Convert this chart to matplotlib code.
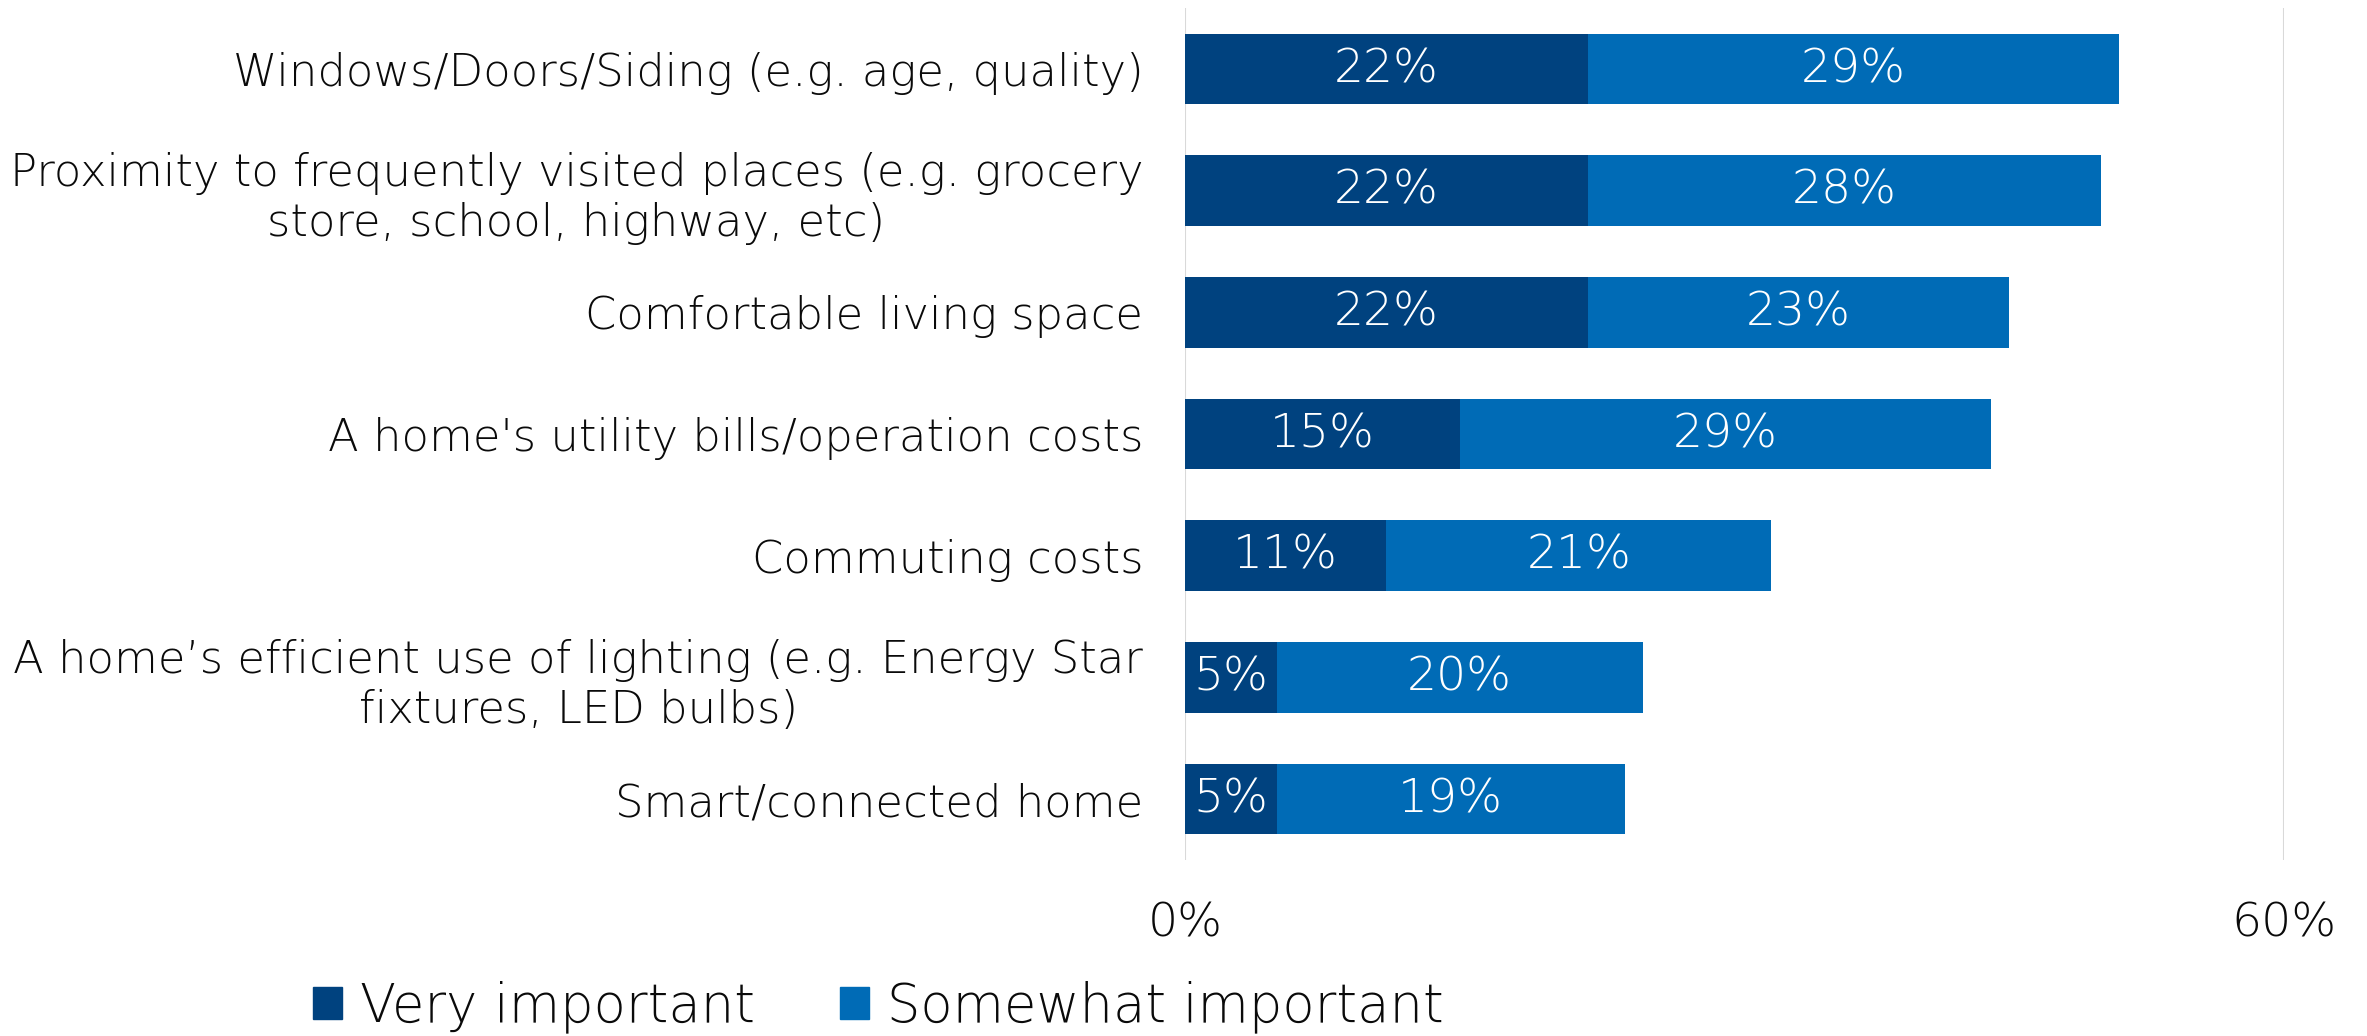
import matplotlib.pyplot as plt
from matplotlib.patches import Patch

categories = [
    "Windows/Doors/Siding (e.g. age, quality)",
    "Proximity to frequently visited places (e.g. grocery\nstore, school, highway, etc)",
    "Comfortable living space",
    "A home's utility bills/operation costs",
    "Commuting costs",
    "A home\u2019s efficient use of lighting (e.g. Energy Star\nfixtures, LED bulbs)",
    "Smart/connected home",
]
very_important = [22, 22, 22, 15, 11, 5, 5]
somewhat_important = [29, 28, 23, 29, 21, 20, 19]
series_names = ["Very important", "Somewhat important"]
x_ticks = [0, 60]

dark_blue = "#00427F"
light_blue = "#006BB6"
text_col = "#0A0A0A"

plt.rcParams['font.family'] = ['DejaVu Sans']

fig = plt.figure(figsize=(23.67, 10.36), dpi=100)
ax = fig.add_axes([0.5006, 0.170, 0.4644, 0.822])

y = list(range(len(categories)))
ax.barh(y, very_important, height=0.58, color=dark_blue)
ax.barh(y, somewhat_important, left=very_important, height=0.58, color=light_blue)

# value labels centred in each segment
for i in y:
    ax.text(very_important[i] / 2, i, f"{very_important[i]}%", ha='center', va='center',
            color='white', fontsize=34, fontweight='light')
    ax.text(very_important[i] + somewhat_important[i] / 2, i, f"{somewhat_important[i]}%",
            ha='center', va='center', color='white', fontsize=34, fontweight='light')

ax.set_xlim(0, 60)
ax.set_ylim(len(categories) - 0.5, -0.5)
ax.set_xticks(x_ticks)
ax.set_xticklabels([f"{t}%" for t in x_ticks], fontsize=34, fontweight='light', color=text_col)
ax.set_yticks(y)
ax.set_yticklabels(categories, fontsize=32.3, fontweight='light', color=text_col)
for lab in ax.get_yticklabels():
    lab.set_multialignment('center')
ax.tick_params(axis='y', length=0, pad=30)
ax.tick_params(axis='x', length=0, pad=30)

ax.grid(axis='x', color='#D9D9D9', linewidth=1.5)
ax.set_axisbelow(True)
for s in ax.spines.values():
    s.set_visible(False)

handles = [Patch(color=dark_blue), Patch(color=light_blue)]
leg = fig.legend(handles, series_names, loc='center left', bbox_to_anchor=(0.112, 0.028),
                 ncol=2, frameon=False, handlelength=0.55, handleheight=0.55,
                 handletextpad=0.35, columnspacing=1.6, prop={'size': 38, 'weight': 'light'})
for t in leg.get_texts():
    t.set_color(text_col)

fig.savefig("out.png", dpi=100)
